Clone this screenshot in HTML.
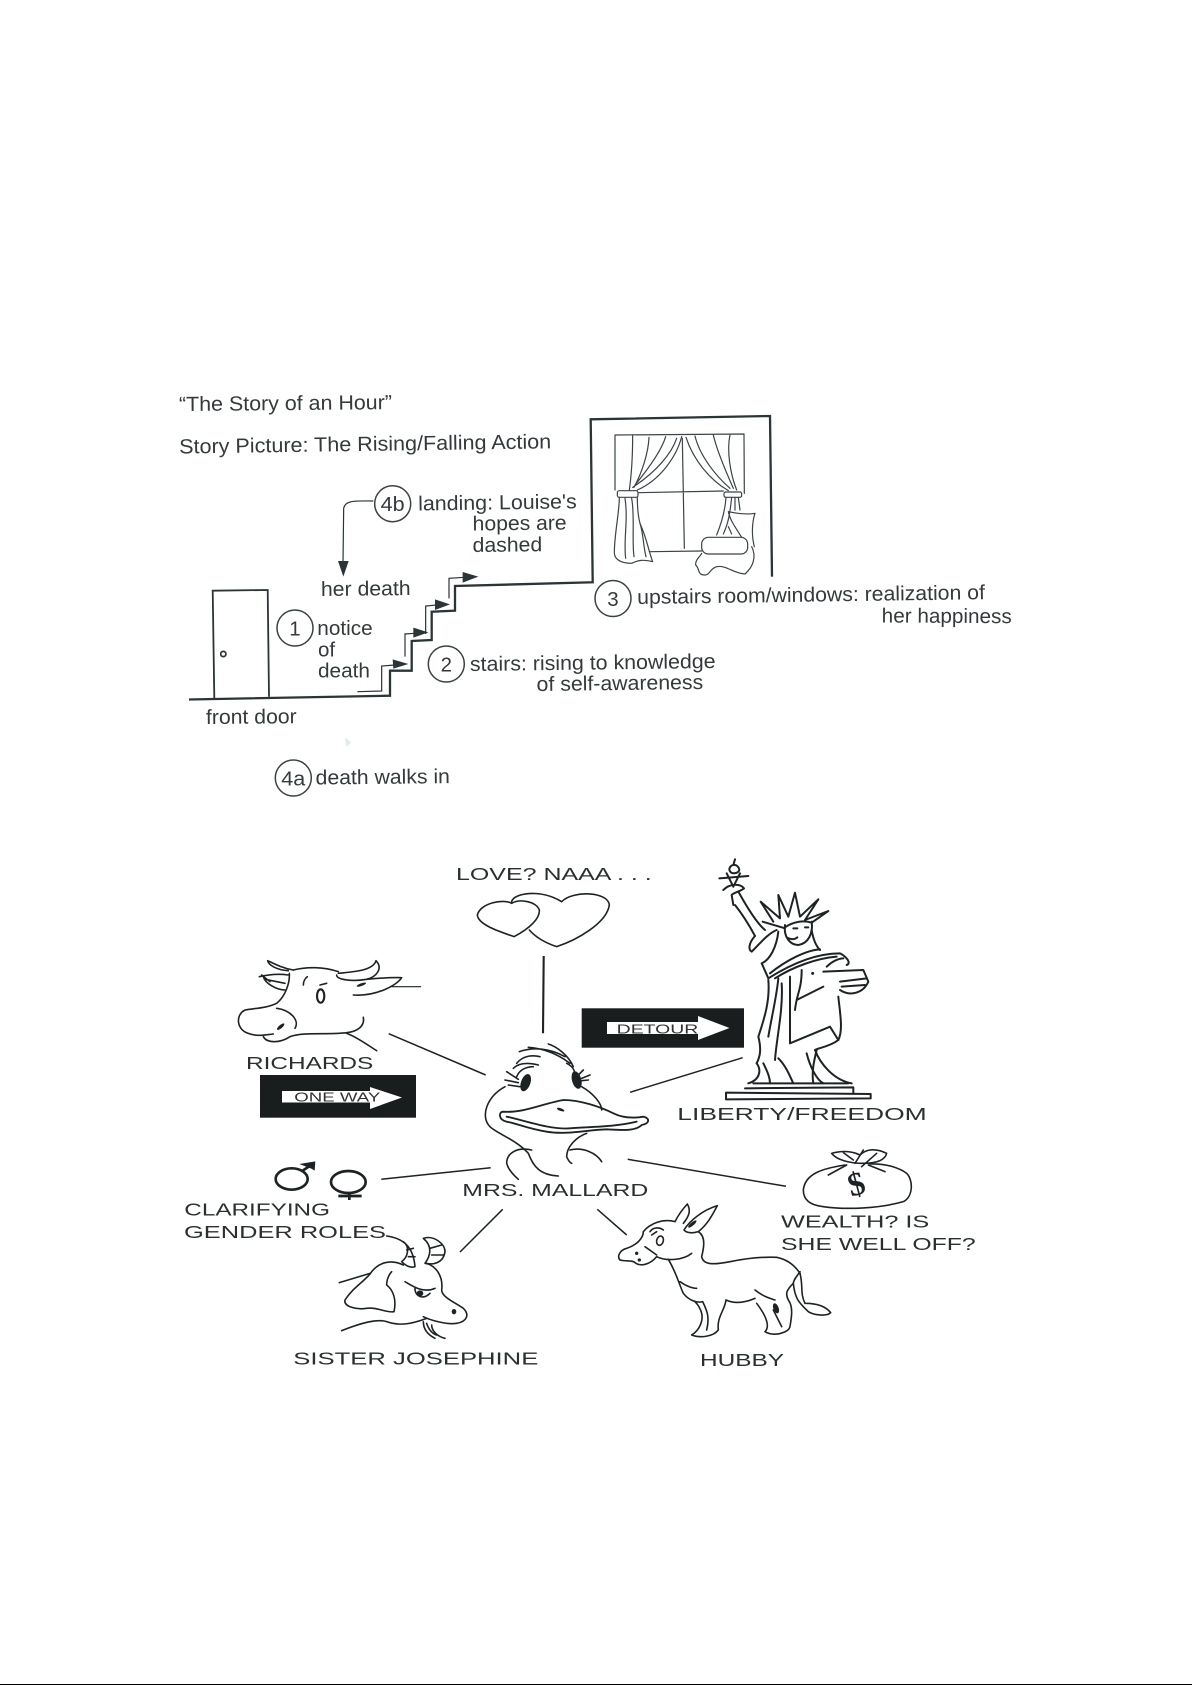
<!DOCTYPE html>
<html><head><meta charset="utf-8"><style>
html,body{margin:0;padding:0;background:#fff}
svg{display:block}
.t{font-family:"Liberation Sans",sans-serif;font-size:20.5px;fill:#343a3c}
.h{font-family:"Liberation Sans",sans-serif;font-size:17.5px;fill:#2a2f30}
.s{font-family:"Liberation Sans",sans-serif;font-size:13px;fill:#333}
.d{fill:none;stroke:#1d2325;stroke-width:4.8;stroke-linecap:round;stroke-linejoin:round}
.k{fill:#1d2325;stroke:none}
</style></head><body>
<svg width="1192" height="1685" viewBox="0 0 1192 1685" xmlns="http://www.w3.org/2000/svg">
<rect width="1192" height="1685" fill="#fff"/>
<rect y="1684" width="1192" height="1" fill="#000"/>

<!-- stairs -->
<polyline fill="none" stroke="#2b3437" stroke-width="2.3" points="189,699.5 390,695.7 390,670.7 411.7,670.7 411.7,641 431.7,640 431.7,611.7 455,610.7 455,586 592.7,582.3 590.7,419.3 770,416 772,576.7"/>
<!-- door -->
<path d="M214.3,698 L212.7,590.7 L267.7,590 L269,696.7" fill="none" stroke="#2b3437" stroke-width="1.8"/>
<circle cx="223.3" cy="654" r="2.6" fill="none" stroke="#2b3437" stroke-width="1.7"/>

<!-- stair arrows, zoom coords -->
<g transform="translate(150,380) scale(.33333)">
<g fill="none" stroke="#2b3437" stroke-width="3.6">
<polyline points="622,935 695,933 695,858 735,855"/>
<polyline points="765,830 765,762 795,760"/>
<polyline points="827,762 827,678 860,675"/>
<polyline points="897,655 897,595 945,592"/>
<path d="M670,363 C610,362 585,362 581,385 L579,550"/>
</g>
<g fill="#2b3437">
<polygon points="728,838 775,852 730,866"/>
<polygon points="790,743 835,757 790,773"/>
<polygon points="855,658 900,673 855,690"/>
<polygon points="938,576 985,590 938,608"/>
<polygon points="564,543 596,543 580,590"/>
</g>
<path d="M585,1072 l18,16 -14,12 z" fill="#dfe9f0"/>
</g>

<!-- number circles -->
<g fill="#fff" stroke="#3a4244" stroke-width="1.5">
<circle cx="295" cy="628" r="18"/>
<circle cx="446.3" cy="664" r="18"/>
<circle cx="613" cy="598.5" r="18"/>
<circle cx="392.7" cy="503.7" r="18"/>
<circle cx="293.3" cy="778" r="18"/>
</g>
<g class="t" text-anchor="middle">
<text x="295" y="635.5">1</text>
<text x="446.3" y="671.5">2</text>
<text x="613" y="606">3</text>
<text x="392.7" y="511" textLength="24" lengthAdjust="spacingAndGlyphs">4b</text>
<text x="293.3" y="785.5" textLength="24" lengthAdjust="spacingAndGlyphs">4a</text>
</g>

<!-- printed text -->
<g class="t">
<text x="179" y="411" textLength="213" lengthAdjust="spacingAndGlyphs" transform="rotate(-.5 179 411)">“The Story of an Hour”</text>
<text x="179.3" y="453.5" textLength="372" lengthAdjust="spacingAndGlyphs" transform="rotate(-.8 179.3 453.5)">Story Picture: The Rising/Falling Action</text>
<text x="418.3" y="510.5" textLength="158.5" lengthAdjust="spacingAndGlyphs" transform="rotate(-.8 418.3 510.5)">landing: Louise's</text>
<text x="472.7" y="530.5" textLength="94" lengthAdjust="spacingAndGlyphs" transform="rotate(-.6 472.7 530.5)">hopes are</text>
<text x="472.7" y="552" textLength="69.6" lengthAdjust="spacingAndGlyphs" transform="rotate(-.6 472.7 552)">dashed</text>
<text x="321" y="596" textLength="89.7" lengthAdjust="spacingAndGlyphs" transform="rotate(-.6 321 596)">her death</text>
<text x="317.3" y="635" textLength="55.4" lengthAdjust="spacingAndGlyphs">notice</text>
<text x="318" y="656.5">of</text>
<text x="318" y="677.5" textLength="52" lengthAdjust="spacingAndGlyphs">death</text>
<text x="206" y="724" textLength="90.7" lengthAdjust="spacingAndGlyphs" transform="rotate(-.5 206 724)">front door</text>
<text x="315.7" y="784.5" textLength="134.3" lengthAdjust="spacingAndGlyphs" transform="rotate(-.6 315.7 784.5)">death walks in</text>
<text x="470" y="671" textLength="245.7" lengthAdjust="spacingAndGlyphs" transform="rotate(-.7 470 671)">stairs: rising to knowledge</text>
<text x="536.7" y="691" textLength="166.6" lengthAdjust="spacingAndGlyphs" transform="rotate(-.7 536.7 691)">of self-awareness</text>
<text x="637.3" y="604" textLength="347.7" lengthAdjust="spacingAndGlyphs" transform="rotate(-.8 637.3 604)">upstairs room/windows: realization of</text>
<text x="881.7" y="622.5" textLength="130" lengthAdjust="spacingAndGlyphs" transform="rotate(.3 881.7 622.5)">her happiness</text>
</g>

<!-- window -->
<g transform="translate(560,400) scale(.33333)" fill="none" stroke="#3a4447" stroke-width="3.6" stroke-linecap="round" stroke-linejoin="round">
<path d="M165,270 L165,105 L552,102 L553,280"/>
<path d="M367,115 L373,445 M235,278 L490,273 M268,455 L425,453"/>
<path d="M232,270 C300,240 350,170 365,110 M218,262 C290,215 335,160 350,115"/>
<path d="M218,105 C218,170 215,220 208,270 M267,112 C265,160 245,220 222,262 M317,110 C305,150 270,200 225,255"/>
<path d="M378,112 C400,180 450,240 505,272 M405,108 C420,170 470,230 510,265 M460,105 C470,150 500,220 520,265 M510,105 C500,150 510,220 530,270"/>
<rect x="172" y="272" width="62" height="20" rx="6"/>
<rect x="492" y="276" width="53" height="16" rx="5"/>
<path d="M178,292 C178,340 163,400 163,460 C165,480 185,490 215,490 C235,480 250,478 278,485 C265,450 262,420 240,370 C232,340 232,310 232,292"/>
<path d="M195,295 C205,360 190,420 197,475 M215,295 C225,350 215,420 222,470 M240,370 C250,400 250,440 258,470"/>
<path d="M498,292 C495,340 480,380 470,405 M515,292 C510,340 505,370 490,402 M535,292 L540,330 M525,292 L525,330"/>
<path d="M505,335 C530,340 560,345 585,340 C575,370 575,410 583,440 M505,335 C510,360 525,380 545,412 M505,380 L515,402"/>
<rect x="425" y="412" width="138" height="50" rx="20"/>
<path d="M425,460 C420,470 405,480 407,495 C420,505 410,525 435,525 C450,525 450,505 470,500 C500,495 520,520 555,522 C580,500 590,470 575,440"/>
</g>

<!-- connector lines -->
<g stroke="#1d2325" fill="none" stroke-width="1.5">
<line x1="543.7" y1="956" x2="543" y2="1033.3" stroke-width="2.1"/>
<line x1="388.7" y1="1033.7" x2="485.7" y2="1075"/>
<line x1="630" y1="1092.3" x2="742.7" y2="1057.7"/>
<line x1="381.3" y1="1179.3" x2="490.7" y2="1167.7"/>
<line x1="460" y1="1252" x2="502.7" y2="1209.3"/>
<line x1="597.3" y1="1209.3" x2="626.7" y2="1235"/>
<line x1="627.7" y1="1159.3" x2="786" y2="1186.3"/>
</g>

<!-- signs -->
<rect x="260" y="1075" width="156" height="42.7" fill="#1a1d1e"/>
<polygon points="282,1091 370,1091 370,1087 402,1097.5 370,1109 370,1102.5 282,1102.5" fill="#fff"/>
<text class="s" x="294.3" y="1101.5" textLength="86" lengthAdjust="spacingAndGlyphs">ONE WAY</text>
<rect x="581.7" y="1008.3" width="162.3" height="39.4" fill="#1a1d1e"/>
<polygon points="607,1022 698,1022 698,1016 729.5,1028 698,1040 698,1034 607,1034" fill="#fff"/>
<text class="s" x="616.7" y="1033.5" textLength="81.6" lengthAdjust="spacingAndGlyphs">DETOUR</text>

<!-- handwriting labels -->
<g class="h">
<text x="246" y="1069" textLength="127.3" lengthAdjust="spacingAndGlyphs">RICHARDS</text>
<text x="184.3" y="1215.5" textLength="145.7" lengthAdjust="spacingAndGlyphs">CLARIFYING</text>
<text x="184" y="1238" textLength="202" lengthAdjust="spacingAndGlyphs">GENDER ROLES</text>
<text x="462.3" y="1196" textLength="186" lengthAdjust="spacingAndGlyphs">MRS. MALLARD</text>
<text x="293.3" y="1364.5" textLength="245" lengthAdjust="spacingAndGlyphs">SISTER JOSEPHINE</text>
<text x="456" y="880" textLength="195.7" lengthAdjust="spacingAndGlyphs">LOVE? NAAA . . .</text>
<text x="677.3" y="1120" textLength="249.4" lengthAdjust="spacingAndGlyphs">LIBERTY/FREEDOM</text>
<text x="781" y="1227.5" textLength="148.3" lengthAdjust="spacingAndGlyphs">WEALTH? IS</text>
<text x="781" y="1250" textLength="194.7" lengthAdjust="spacingAndGlyphs">SHE WELL OFF?</text>
<text x="700" y="1366" textLength="84" lengthAdjust="spacingAndGlyphs">HUBBY</text>
</g>

<!-- left drawings (zoom3 coords) -->
<g transform="translate(170,940) scale(.33333)">
<g class="d">
<!-- cow -->
<path d="M355,92 C320,90 295,75 293,62 C320,75 340,85 370,90"/>
<path d="M370,90 C410,80 460,80 505,95"/>
<path d="M505,100 C560,95 610,90 618,62 C640,85 620,110 590,118 C550,125 500,120 500,105"/>
<path d="M590,118 C620,115 660,112 695,113 C680,135 620,170 550,165"/>
<path d="M665,140 L752,140" stroke-width="3.5"/>
<path d="M355,105 C320,100 290,105 268,110 M345,150 C320,150 285,130 280,110 M285,118 L345,130 M275,105 L300,125"/>
<path d="M358,100 C360,130 345,170 320,190 C290,205 250,205 225,210 C195,225 200,270 235,280 C260,290 280,285 310,282"/>
<path d="M320,205 C360,210 390,240 375,265"/>
<path d="M280,290 C290,310 330,310 360,290 C400,275 470,285 530,278 C560,275 585,260 580,232"/>
<path d="M530,280 C560,290 600,320 620,332"/>
<ellipse cx="452" cy="168" rx="11" ry="20" stroke-width="6.5"/>
<path d="M450,135 L470,130 M400,135 C400,125 405,115 412,110"/>
<!-- duck -->
<path d="M1005,440 C950,470 930,530 960,560 C980,580 1040,600 1075,640 C1090,680 1110,705 1165,708"/>
<path d="M1085,630 C1040,620 1010,640 1010,670 C1015,690 1030,705 1045,718"/>
<path d="M1250,580 C1220,590 1190,620 1190,650 C1195,662 1200,668 1205,670 M1200,630 C1240,620 1280,640 1295,665"/>
<path d="M1235,440 C1270,460 1295,490 1295,510"/>
<path d="M1000,515 C1060,520 1120,490 1180,480 C1230,480 1290,500 1330,520 C1360,535 1390,535 1420,530 C1440,535 1440,550 1415,555 C1395,575 1350,570 1310,568 C1250,570 1190,585 1130,575 C1070,565 1040,550 1010,545 C985,540 985,515 1000,515 Z" stroke-width="5.5"/>
<path d="M1010,530 C1060,540 1140,570 1200,565 C1270,560 1340,560 1400,545" stroke-width="5.5"/>
<path d="M1048,335 C1090,320 1140,325 1185,350 M1075,322 C1120,325 1160,340 1200,370 M1135,312 C1160,320 1195,345 1210,380 M1040,370 C1060,345 1090,345 1110,350 M1030,385 C1050,365 1085,370 1105,375 M1040,410 C1050,385 1075,380 1090,380 M1190,370 C1210,380 1215,395 1215,405 M1010,395 L1045,418 M1005,420 L1045,428 M1015,435 L1050,440 M1240,390 L1225,405 M1260,405 L1235,415 M1255,420 L1235,422"/>
<!-- goat -->
<path d="M650,888 C700,895 730,920 735,980 C720,985 705,975 695,965 C715,950 720,920 700,905 M760,895 C790,885 825,910 825,935 C820,970 790,975 765,970 C780,950 790,920 760,895"/>
<path d="M710,930 L730,925 M715,950 L735,950 M780,925 L815,915 M785,945 L820,945"/>
<path d="M700,975 C660,955 625,970 605,995 C590,1020 550,1040 525,1080 C520,1100 560,1110 590,1105 C620,1100 650,1120 672,1115 C680,1080 670,1050 650,1035 C650,1015 660,1000 665,995"/>
<path d="M508,1028 L600,1000 M770,970 C800,980 820,1010 815,1050 C815,1070 850,1085 880,1105 C900,1125 890,1145 860,1150 C830,1155 780,1140 760,1130"/>
<path d="M515,1172 C570,1150 620,1135 650,1145 C690,1160 730,1150 770,1135"/>
<path d="M705,1025 C730,1040 760,1060 795,1045 M735,1045 C735,1070 760,1080 780,1060"/>
<path d="M760,1145 C760,1170 775,1185 795,1195 M785,1155 C785,1175 805,1190 825,1195 M770,1150 C775,1165 785,1180 800,1185"/>
</g>
<ellipse class="k" cx="1067" cy="428" rx="14" ry="27" transform="rotate(20 1067 428)"/>
<ellipse class="k" cx="1220" cy="420" rx="14" ry="27" transform="rotate(-15 1220 420)"/>
<ellipse class="k" cx="1172" cy="509" rx="12" ry="4" transform="rotate(20 1172 509)"/>
<ellipse class="k" cx="332" cy="260" rx="14" ry="5" transform="rotate(-40 332 260)"/>
<ellipse class="k" cx="574" cy="134" rx="15" ry="4" transform="rotate(-20 574 134)"/>
<ellipse class="k" cx="750" cy="1060" rx="10" ry="9"/>
<ellipse class="k" cx="852" cy="1115" rx="7" ry="8"/>
<!-- gender symbols -->
<g fill="none" stroke="#1d2325" stroke-width="8">
<ellipse cx="365" cy="717" rx="48" ry="32"/>
<path d="M398,692 L428,672"/>
<ellipse cx="535" cy="726" rx="52" ry="33"/>
<path d="M538,760 L538,780 M505,768 L575,768"/>
</g>
<polygon class="k" points="388,672 436,664 434,692 424,686 414,682"/>
</g>

<!-- hearts and statue (zoom4 coords) -->
<g transform="translate(440,850) scale(.33333)">
<g class="d">
<path d="M215,160 C190,145 120,160 112,195 C115,225 180,245 222,260 C270,235 300,205 298,180 C290,155 240,145 215,160 Z"/>
<path d="M215,155 C220,130 300,115 365,155 C400,120 505,125 508,165 C500,220 410,270 350,290 C320,280 290,265 268,240"/>
<g stroke-width="6">
<path d="M885,28 L880,45 M868,58 C870,40 895,40 898,60 C895,72 870,75 868,58 Z M838,85 L925,78 M850,120 C870,100 900,100 912,115 C900,125 880,128 875,135 L880,165 M860,70 L880,110 M900,70 L880,110"/>
<path d="M895,125 C920,170 950,220 975,240 M885,165 C905,190 930,230 945,258"/>
<path d="M945,258 C925,280 925,300 935,305 C960,280 985,250 1010,240"/>
<path d="M1000,215 L962,155 L1020,205 L1015,135 L1045,200 L1065,128 L1080,200 L1135,148 L1095,210 L1165,183 L1115,218 M1035,232 C1060,215 1090,210 1115,218 M968,215 L1035,235"/>
<path d="M1035,225 C1030,260 1050,285 1075,285 C1105,280 1120,250 1115,215 M1040,262 C1055,270 1065,268 1072,262 M1060,235 L1072,235 M1095,232 L1105,232"/>
<path d="M1115,240 C1120,270 1130,290 1140,300 M1015,245 C1010,290 990,330 965,340 L985,385"/>
<path d="M985,385 C1040,350 1120,310 1200,310 C1220,320 1235,340 1220,345 M990,370 C1040,330 1100,300 1140,298 M1005,385 C1060,350 1130,325 1190,320"/>
<path d="M1150,365 L1270,360 L1285,395 C1270,430 1230,440 1200,420 M1160,350 C1175,335 1195,325 1210,325 M1200,395 L1280,385 M1205,410 L1275,405"/>
<path d="M985,390 C990,450 975,500 955,560 C965,600 960,620 950,640 M1015,385 C1010,440 995,500 985,560"/>
<path d="M1195,440 C1200,490 1210,540 1195,570 C1170,590 1130,595 1125,600 C1140,640 1180,690 1235,700"/>
<path d="M1050,380 L1050,580 L1170,530 L1195,570 M1085,360 C1085,420 1070,430 1065,480 M1150,410 L1070,450 M1025,400 C1030,480 1010,560 1005,630"/>
<path d="M950,640 C965,660 960,690 925,700 M1015,625 C1040,650 1050,680 1060,700 M1100,610 C1110,650 1130,690 1150,700 M1130,600 C1120,640 1115,670 1120,700 M970,640 C985,670 990,685 990,700"/>
<path d="M858,728 L1292,732 L1292,745 L858,748 Z M915,715 L1240,712 L1240,728 M940,700 L1225,700"/>
</g>
</g>
<circle class="k" cx="1118" cy="370" r="4.5"/>
</g>

<!-- donkey and bag (zoom5 coords) -->
<g transform="translate(480,1140) scale(.33333)">
<g class="d">
<path d="M1095,75 C1030,85 975,100 970,150 C970,180 990,195 1030,200 C1100,210 1200,205 1270,185 C1300,170 1300,120 1280,100 C1260,85 1220,70 1170,72"/>
<path d="M1055,40 C1090,30 1120,35 1140,45 C1160,25 1190,25 1220,40 C1215,60 1190,70 1150,70 C1110,70 1070,60 1055,40 Z M1090,38 L1120,60 M1150,30 L1125,70 M1190,40 L1145,80 M1100,75 L1045,105 M1165,75 L1215,95"/>
<path d="M585,245 C595,225 610,205 622,192 C632,210 630,225 610,250"/>
<path d="M612,270 C630,240 670,210 712,197 C695,230 680,255 655,275 C640,280 620,280 612,270 Z"/>
<path d="M585,245 C550,235 510,250 490,275 C490,295 470,315 440,325 C420,330 410,350 420,360 C440,365 460,360 465,368 C480,380 510,375 530,350 C560,365 610,360 635,340"/>
<path d="M565,358 C590,400 600,440 610,460 C625,480 650,490 668,485 M600,425 C620,440 640,445 650,445"/>
<path d="M655,275 C680,290 670,330 665,350 C670,375 700,375 750,365 C800,355 850,350 890,352 C930,360 950,385 960,400"/>
<path d="M960,400 C970,440 960,460 975,490 C990,490 1030,490 1052,518 C1040,530 1000,525 985,515 C960,490 945,480 940,430 C940,420 950,410 960,395"/>
<path d="M940,430 C920,450 915,460 925,480 C940,500 935,530 930,560 C925,580 880,590 855,575 C870,560 860,530 830,490"/>
<path d="M825,475 C790,490 760,490 738,480 C735,510 710,530 715,570 C700,590 660,595 635,585 C660,570 670,540 665,520 C660,500 650,490 645,485"/>
<path d="M668,485 C680,510 690,530 680,570 M825,450 C850,470 870,475 885,480 M880,510 C890,530 900,550 905,560 M510,275 C520,260 540,262 550,270 M515,285 L530,275 M495,320 L530,345"/>
<ellipse cx="540" cy="302" rx="10" ry="14" transform="rotate(15 540 302)"/>
</g>
<ellipse class="k" cx="637" cy="252" rx="16" ry="5" transform="rotate(-40 637 252)"/>
<ellipse class="k" cx="888" cy="505" rx="8" ry="16" transform="rotate(-20 888 505)"/>
<circle class="k" cx="470" cy="340" r="5"/>
<circle class="k" cx="478" cy="360" r="5"/>
<text x="1130" y="165" font-family="Liberation Serif,serif" font-weight="bold" font-size="100" text-anchor="middle" fill="#1d2325" transform="rotate(-15 1130 135)">$</text>
</g>
</svg>
</body></html>
